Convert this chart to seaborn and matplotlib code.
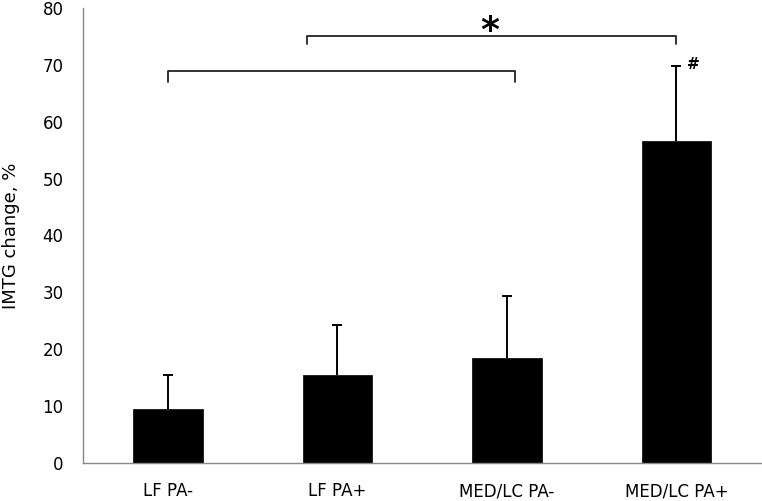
import numpy as np
import pandas as pd
import matplotlib
matplotlib.use("Agg")
import matplotlib.pyplot as plt
import seaborn as sns

# ---- data ----
groups = ["LF PA-", "LF PA+", "MED/LC PA-", "MED/LC PA+"]
imtg_change = [9.5, 15.5, 18.4, 56.7]
sd_upper = [6.0, 8.8, 11.0, 13.1]

# significance brackets: (x start, x end, height, drop)
bracket_low = (0.0, 2.05, 69.0, 2.0)
bracket_high = (0.82, 3.0, 75.1, 1.4)

df = pd.DataFrame({"group": groups, "change": imtg_change})

sns.set_style("white")
plt.rcParams["font.family"] = ["DejaVu Sans"]
plt.rcParams["text.color"] = "black"
plt.rcParams["axes.labelcolor"] = "black"
plt.rcParams["xtick.labelcolor"] = "black"
plt.rcParams["ytick.labelcolor"] = "black"

fig = plt.figure(figsize=(7.62, 5.01), dpi=100)
ax = fig.add_axes([0.109, 0.076, 0.89, 0.908])

sns.barplot(data=df, x="group", y="change", color="black", width=0.41,
            saturation=1, ax=ax, errorbar=None, edgecolor="black", linewidth=0.5)

# upper-only error bars
xpos = np.arange(len(groups))
eb = ax.errorbar(xpos, imtg_change, yerr=[np.zeros(len(groups)), sd_upper],
                 fmt="none", ecolor="black", elinewidth=1.4, capsize=3.8,
                 capthick=1.4)
# hide the lower cap (zero-length lower error)
eb[1][0].set_visible(False)

# brackets
for x0, x1, h, d in [bracket_low, bracket_high]:
    ax.plot([x0, x0, x1, x1], [h - d, h, h, h - d], color="#222222", lw=1.3,
            solid_joinstyle="round")
ax.text(1.9, 73.0, "*", ha="center", va="bottom", fontsize=26, fontweight="bold")
ax.text(3.06, 70.0, "#", ha="left", va="center", fontsize=11, fontweight="bold")

ax.set_xlim(-0.5, 3.5)
ax.set_ylim(0, 80)
ax.set_yticks(range(0, 81, 10))
ax.set_xlabel("")
ax.set_ylabel("IMTG change, %", fontsize=13)
ax.yaxis.set_label_coords(-0.093, 0.5)

# category labels centred, ticks at boundaries
ax.set_xticks(xpos)
ax.set_xticklabels(groups, fontsize=12)
ax.set_xticks(np.arange(-0.5, 4.0, 1.0), minor=True)
ax.tick_params(axis="x", which="major", length=0, pad=14)
ax.tick_params(axis="x", which="minor", length=5, color="#888888", width=1,
               direction="out")
ax.tick_params(axis="y", length=5, color="#888888", width=1, direction="out",
               labelsize=12, pad=9)

sns.despine(ax=ax)
for side in ["left", "bottom"]:
    ax.spines[side].set_color("#888888")
    ax.spines[side].set_linewidth(1)

fig.savefig("out.png", dpi=100)
